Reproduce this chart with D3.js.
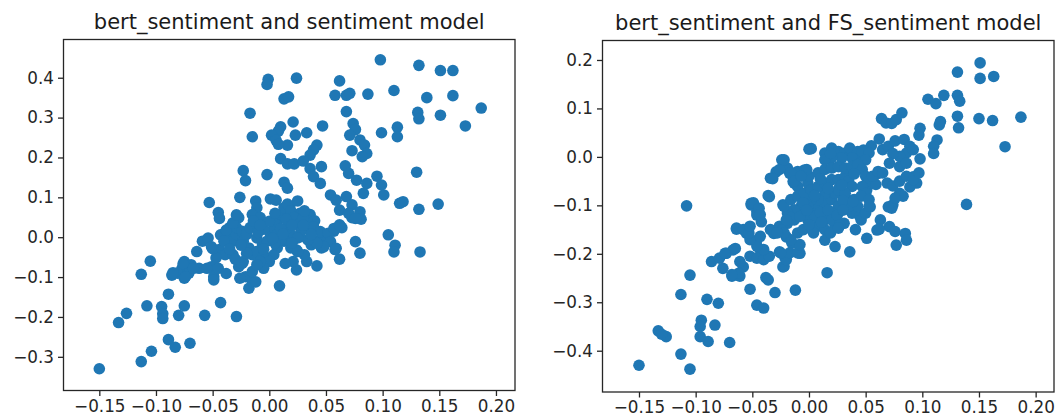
<!DOCTYPE html>
<meta charset="utf-8">
<style>
body { margin: 0; background: #fff; }
svg text { font-family: 'DejaVu Sans', sans-serif; }
.tick text { font-size: 16.8px; fill: #262626; }
.tick line { stroke: #262626; stroke-width: 1.3px; }
.title { font-size: 21px; fill: #1a1a1a; }
.frame { fill: none; stroke: #262626; stroke-width: 1.3px; }
</style>
<svg width="1056" height="418" id="svg"></svg>
<script src="https://d3js.org/d3.v7.min.js"></script>
<script>

// bert_sentiment (x) vs sentiment model (y)
let sentimentPoints = [
  [0.098,0.445],[0.132,0.431],[0.151,0.418],[0.162,0.418],[-0.001,0.396],[-0.002,0.383],[0.024,0.399],[0.062,0.392],
  [0.110,0.368],[0.058,0.356],[0.068,0.356],[0.071,0.361],[0.087,0.359],[0.139,0.350],[0.162,0.355],[0.013,0.347],
  [0.017,0.352],[0.131,0.313],[0.132,0.297],[0.151,0.306],[0.187,0.324],[0.068,0.315],[-0.017,0.311],[0.173,0.279],
  [0.047,0.279],[0.021,0.289],[0.074,0.285],[0.076,0.270],[0.010,0.277],[0.008,0.266],[-0.015,0.252],[0.002,0.256],
  [0.006,0.243],[0.023,0.256],[0.033,0.262],[0.099,0.262],[0.113,0.276],[0.113,0.252],[0.071,0.256],[0.080,0.244],
  [0.016,0.231],[0.008,0.233],[0.084,0.231],[0.086,0.210],[0.073,0.217],[0.082,0.202],[0.042,0.231],[0.039,0.219],
  [0.036,0.206],[0.010,0.197],[0.016,0.184],[0.022,0.184],[0.030,0.191],[-0.023,0.167],[-0.021,0.142],[-0.002,0.157],
  [0.036,0.172],[0.046,0.177],[0.039,0.152],[0.045,0.135],[0.067,0.179],[0.070,0.160],[0.077,0.143],[0.086,0.135],
  [0.095,0.153],[0.099,0.131],[0.101,0.106],[0.083,0.110],[0.130,0.163],[0.115,0.085],[0.118,0.089],[0.132,0.070],
  [0.149,0.083],[0.054,0.106],[0.059,0.093],[0.068,0.102],[0.073,0.081],[0.080,0.064],[0.062,0.068],[0.013,0.138],
  [0.016,0.123],[0.081,0.045],[0.073,0.049],[0.070,0.060],[0.076,0.047],
  [-0.053,0.087],[-0.045,0.062],[-0.044,0.047],[-0.026,0.100],[-0.012,0.091],[-0.011,0.074],[-0.015,0.057],[-0.008,0.049],
  [0.001,0.096],[0.006,0.093],[-0.027,0.049],[-0.032,0.036],[-0.035,0.024],
  [0.076,-0.011],[0.080,-0.040],[0.105,0.006],[0.111,-0.020],[0.110,-0.037],[0.133,-0.037],[0.064,0.024],[0.062,-0.055],
  [0.042,-0.072],[0.057,0.015],[0.052,-0.010],[0.058,-0.031],[0.009,-0.122],[0.024,-0.082],[0.021,-0.061],[0.014,-0.066],
  [0.033,-0.061],[0.031,-0.044],[0.037,-0.019],[0.043,-0.010],[0.046,-0.027],[0.048,0.007],[0.036,0.057],[0.040,0.041],
  [0.034,0.024],[0.018,0.077],[0.027,0.060],[0.033,0.043],[0.039,0.026],[0.045,0.014],[0.052,0.010],[0.057,0.022],
  [0.062,0.031],[0.054,-0.011],[0.059,-0.028],[0.048,-0.024],[0.042,-0.015],[0.034,-0.007],[0.027,0.001],[0.024,-0.032],
  [-0.041,0.007],[-0.038,0.015],[-0.036,-0.002],[-0.032,-0.010],[-0.029,0.007],[-0.029,0.024],[-0.024,0.015],[-0.023,-0.010],
  [-0.020,0.007],[-0.017,0.024],[-0.014,0.041],[-0.018,-0.027],[-0.015,-0.044],[-0.011,-0.036],[-0.006,-0.019],[-0.005,-0.044],
  [-0.002,-0.010],[0.001,0.007],[0.004,0.024],[0.007,0.041],[0.010,0.057],[0.013,0.074],[0.016,0.083],[0.019,0.066],
  [0.022,0.049],[0.025,0.032],[0.028,0.015],[0.019,0.007],[0.013,-0.010],[0.007,-0.027],[0.004,-0.044],[0.000,-0.061],
  [-0.005,-0.078],[-0.008,-0.061],[0.016,0.024],[0.025,-0.002],[0.030,0.049],[0.025,0.091],[0.031,0.066],[0.037,0.007],
  [0.007,0.007],[0.010,-0.006],[-0.011,-0.002],[0.019,-0.027],[0.025,-0.036],
  [-0.005,0.020],[0.000,0.040],[0.005,0.060],[-0.010,0.012],[0.010,0.022],[0.015,0.045],[0.020,0.030],[-0.020,-0.040],
  [-0.025,-0.020],[-0.005,-0.030],[0.005,-0.015],[0.020,-0.015],[0.030,0.030],[-0.008,0.030],[0.003,-0.003],[0.012,0.008],
  [-0.059,-0.010],[-0.054,-0.002],[-0.044,-0.031],[-0.039,-0.044],[-0.047,-0.052],[-0.032,-0.044],[-0.027,-0.074],[-0.023,-0.061],
  [-0.050,-0.029],[-0.051,-0.074],[-0.049,-0.099],[-0.045,-0.078],[-0.038,-0.091],[-0.064,-0.036],[-0.069,-0.069],[-0.062,-0.078],
  [-0.075,-0.061],[-0.077,-0.078],[-0.086,-0.095],[-0.081,-0.090],[-0.075,-0.103],[-0.105,-0.060],[-0.113,-0.093],[-0.071,-0.090],
  [-0.085,-0.089],[-0.076,-0.066],[-0.074,-0.099],[-0.067,-0.078],[-0.055,-0.078],[-0.049,-0.107],[-0.051,-0.024],[-0.043,0.006],
  [-0.038,0.018],[-0.032,0.035],[-0.029,0.056],[-0.024,-0.066],[-0.021,-0.099],[-0.018,-0.128],[-0.026,-0.103],[-0.015,-0.112],
  [-0.012,-0.112],[-0.015,-0.086],[-0.011,-0.069],[-0.040,-0.010],[-0.035,-0.030],[-0.030,-0.055],
  [-0.057,-0.196],[-0.043,-0.164],[-0.029,-0.199],[-0.089,-0.143],[-0.108,-0.172],[-0.075,-0.172],[-0.080,-0.196],[-0.095,-0.174],
  [-0.094,-0.192],[-0.094,-0.204],[-0.133,-0.214],[-0.126,-0.191],[-0.089,-0.257],[-0.083,-0.276],[-0.070,-0.266],[-0.104,-0.286],
  [-0.113,-0.312],[-0.150,-0.330]
]

// bert_sentiment (x) vs FS_sentiment model (y)
let fsPoints = [
  [0.151,0.194],[0.131,0.175],[0.151,0.162],[0.163,0.166],[0.105,0.119],[0.112,0.110],[0.119,0.127],[0.131,0.127],
  [0.133,0.115],[0.131,0.084],[0.132,0.060],[0.150,0.079],[0.162,0.075],[0.187,0.082],[0.173,0.021],[0.139,-0.098],
  [0.064,0.079],[0.068,0.070],[0.073,0.069],[0.077,0.077],[0.082,0.091],[0.115,0.066],[0.116,0.073],[0.098,0.059],
  [0.097,0.045],[0.113,0.035],[0.110,0.022],[0.110,0.007],[0.098,-0.004],[0.062,0.037],[0.055,0.023],[0.065,0.015],
  [0.070,0.022],[0.076,0.033],[0.084,0.036],[0.089,0.022],[0.086,0.008],[0.092,0.015],[0.080,0.001],[0.074,0.007],
  [0.071,-0.013],[0.080,-0.020],[0.086,-0.013],[0.092,-0.041],[0.095,-0.054],[0.089,-0.062],[0.080,-0.075],[0.069,-0.054],
  [0.061,-0.034],[0.057,-0.041],[0.074,-0.099],[0.045,0.000],[0.048,0.014],[0.033,-0.048],[0.027,-0.062],[0.051,-0.068],
  [0.030,-0.082],[0.039,-0.089],
  [0.002,0.017],[0.014,0.008],[0.020,0.018],[0.026,0.011],[0.032,0.008],[0.036,0.018],[0.043,0.011],[0.047,0.011],
  [0.053,0.008],[0.050,-0.006],[0.038,-0.002],[0.029,-0.002],[0.020,-0.002],[0.014,-0.006],
  [0.000,0.016],[-0.024,-0.006],[-0.029,-0.031],[-0.034,-0.044],[-0.017,-0.034],[-0.014,-0.051],[-0.004,-0.027],[-0.036,-0.080],
  [-0.051,-0.096],[-0.046,-0.113],[-0.023,-0.099],[-0.008,-0.075],[0.019,0.007],[-0.019,-0.023],[-0.013,-0.054],[-0.010,-0.061],
  [-0.001,-0.054],
  [-0.034,-0.150],[-0.026,-0.143],[-0.019,-0.137],[-0.013,-0.130],[-0.010,-0.123],[-0.004,-0.116],[0.002,-0.109],[0.008,-0.102],
  [0.014,-0.095],[0.020,-0.088],[0.023,-0.075],[0.026,-0.068],[0.014,-0.075],[0.008,-0.088],[0.002,-0.088],[-0.001,-0.102],
  [-0.007,-0.102],[-0.013,-0.109],[-0.019,-0.116],[-0.022,-0.102],[-0.016,-0.088],[-0.010,-0.081],[-0.004,-0.075],[0.002,-0.068],
  [0.008,-0.061],[0.014,-0.054],[0.020,-0.047],[0.026,-0.047],[0.032,-0.040],[0.035,-0.050],[0.038,-0.061],[0.032,-0.075],
  [0.026,-0.102],[0.020,-0.116],[0.014,-0.130],[0.008,-0.143],[0.014,-0.150],[-0.001,-0.130],[0.005,-0.123],[0.008,-0.033],
  [0.014,-0.026],[0.020,-0.023],[0.026,-0.020],[0.032,-0.023],[0.038,-0.020],[0.043,-0.016],[0.047,-0.026],[0.050,-0.040],
  [0.053,-0.050],[0.059,-0.057],[0.056,-0.040],[0.061,-0.030],[0.065,-0.033],[0.040,-0.088],[0.047,-0.061],[0.050,-0.075],
  [0.046,-0.081],[0.053,-0.088],[-0.010,-0.157],[-0.005,-0.150],[0.004,-0.157],[0.023,-0.143],[0.031,-0.137],[0.038,-0.116],
  [0.035,-0.102],[0.043,-0.102],
  [0.005,-0.080],[0.010,-0.115],[0.017,-0.110],[0.020,-0.130],[0.000,-0.140],[-0.005,-0.095],[0.030,-0.090],[0.025,-0.120],
  [0.010,-0.045],[0.000,-0.040],[-0.010,-0.030],[0.040,-0.035],[0.017,-0.065],[0.029,-0.058],[0.011,-0.135],[-0.016,-0.125],
  [0.074,-0.060],[0.080,-0.050],[0.086,-0.040],[0.092,-0.047],[0.097,-0.033],[0.083,-0.081],[0.076,-0.085],[0.073,-0.106],
  [0.054,-0.103],[0.063,-0.130],[0.071,-0.144],[0.076,-0.154],[0.085,-0.158],[0.086,-0.172],[0.077,-0.182],[0.060,-0.151],
  [0.051,-0.168],[0.036,-0.196],[0.023,-0.185],[0.014,-0.172],[0.016,-0.239],[0.070,-0.103],[0.039,-0.092],[0.045,-0.123],
  [0.027,-0.141],[0.030,-0.110],[0.019,-0.157],[0.026,-0.147],[0.041,-0.150],[0.046,-0.130],[0.050,-0.116],[0.053,-0.102],
  [0.062,-0.149],
  [-0.108,-0.101],[-0.051,-0.099],[-0.046,-0.120],[-0.042,-0.134],[-0.064,-0.147],[-0.055,-0.158],[-0.046,-0.172],[-0.043,-0.192],
  [-0.037,-0.206],[-0.031,-0.158],[-0.024,-0.151],[-0.020,-0.130],[-0.008,-0.123],[-0.002,-0.110],[-0.020,-0.165],[-0.015,-0.178],
  [-0.026,-0.196],[-0.021,-0.209],[-0.023,-0.227],[-0.008,-0.199],[-0.012,-0.275],[-0.030,-0.280],[-0.038,-0.249],[-0.036,-0.254],
  [-0.052,-0.273],[-0.046,-0.306],[-0.040,-0.312],
  [-0.086,-0.216],[-0.079,-0.209],[-0.073,-0.199],[-0.067,-0.192],[-0.076,-0.230],[-0.068,-0.246],[-0.061,-0.246],[-0.058,-0.227],
  [-0.061,-0.216],[-0.105,-0.244],[-0.113,-0.284],[-0.090,-0.294],[-0.080,-0.302],[-0.095,-0.337],[-0.096,-0.350],[-0.083,-0.347],
  [-0.096,-0.371],[-0.089,-0.381],[-0.070,-0.383],[-0.133,-0.359],[-0.126,-0.371],[-0.130,-0.366],[-0.113,-0.407],[-0.105,-0.438],
  [-0.150,-0.430],
  [-0.052,-0.205],[-0.046,-0.209],[-0.040,-0.212],[-0.035,-0.205],[-0.040,-0.191],[-0.046,-0.184],[-0.052,-0.171],[-0.043,-0.164],
  [-0.064,-0.149],[-0.058,-0.150],[-0.053,-0.157],[-0.052,-0.143],[-0.049,-0.095],[-0.044,-0.106],[-0.043,-0.119],[-0.035,-0.082],
  [-0.026,-0.026],[-0.032,-0.045],[-0.016,-0.033],[-0.013,-0.050],[-0.002,-0.026],[-0.007,-0.040],[-0.022,-0.006],
  [-0.022,-0.226],[-0.020,-0.212],[-0.017,-0.198],[-0.010,-0.198],[-0.008,-0.181],[-0.016,-0.171],[-0.022,-0.157],[-0.028,-0.157],
  [-0.025,-0.198],[-0.062,-0.240],[-0.068,-0.243],[-0.074,-0.199],[-0.065,-0.189]
]

let xTicks = [-0.15, -0.10, -0.05, 0.00, 0.05, 0.10, 0.15, 0.20]
let yTicksLeft = [-0.3, -0.2, -0.1, 0.0, 0.1, 0.2, 0.3, 0.4]
let yTicksRight = [-0.4, -0.3, -0.2, -0.1, 0.0, 0.1, 0.2]
let titles = ['bert_sentiment and sentiment model', 'bert_sentiment and FS_sentiment model']

let svg = d3.select('#svg')

// matplotlib style labels: true minus sign
function fmt(spec) {
    let f = d3.format(spec)
    return d => f(d).replace(/[-\u2212]/, '\u2212')
}

function renderScatter(points, box, xDomain, yDomain, yTicks, title) {
    let x = d3.scaleLinear().domain(xDomain).range([box.left, box.right])
    let y = d3.scaleLinear().domain(yDomain).range([box.bottom, box.top])
    let g = svg.append('g')

    g.append('text')
        .attr('class', 'title')
        .attr('x', (box.left + box.right) / 2)
        .attr('y', box.top - 11)
        .attr('text-anchor', 'middle')
        .text(title)

    g.append('g')
        .selectAll('circle')
        .data(points)
        .enter().append('circle')
        .attr('cx', d => x(d[0]))
        .attr('cy', d => y(d[1]))
        .attr('r', 5.8)
        .attr('fill', '#1f77b4')

    let xAxis = d3.axisBottom(x).tickValues(xTicks).tickFormat(fmt('.2f'))
        .tickSizeInner(5.5).tickSizeOuter(0).tickPadding(4)
    let gx = g.append('g')
        .attr('transform', 'translate(0,' + box.bottom + ')')
        .call(xAxis)
    gx.select('.domain').remove()
    gx.attr('font-size', null).attr('font-family', null)

    let yAxis = d3.axisLeft(y).tickValues(yTicks).tickFormat(fmt('.1f'))
        .tickSizeInner(5.5).tickSizeOuter(0).tickPadding(4)
    let gy = g.append('g')
        .attr('transform', 'translate(' + box.left + ',0)')
        .call(yAxis)
    gy.select('.domain').remove()
    gy.attr('font-size', null).attr('font-family', null)

    g.append('rect')
        .attr('class', 'frame')
        .attr('x', box.left)
        .attr('y', box.top)
        .attr('width', box.right - box.left)
        .attr('height', box.bottom - box.top)
}

renderScatter(sentimentPoints, {left: 63.5, right: 515, top: 39.5, bottom: 390.5},
    [-0.1816, 0.2168], [-0.3845, 0.4959], yTicksLeft, titles[0])

renderScatter(fsPoints, {left: 602.5, right: 1054, top: 40.5, bottom: 392},
    [-0.1822, 0.2162], [-0.4852, 0.2402], yTicksRight, titles[1])

</script>
